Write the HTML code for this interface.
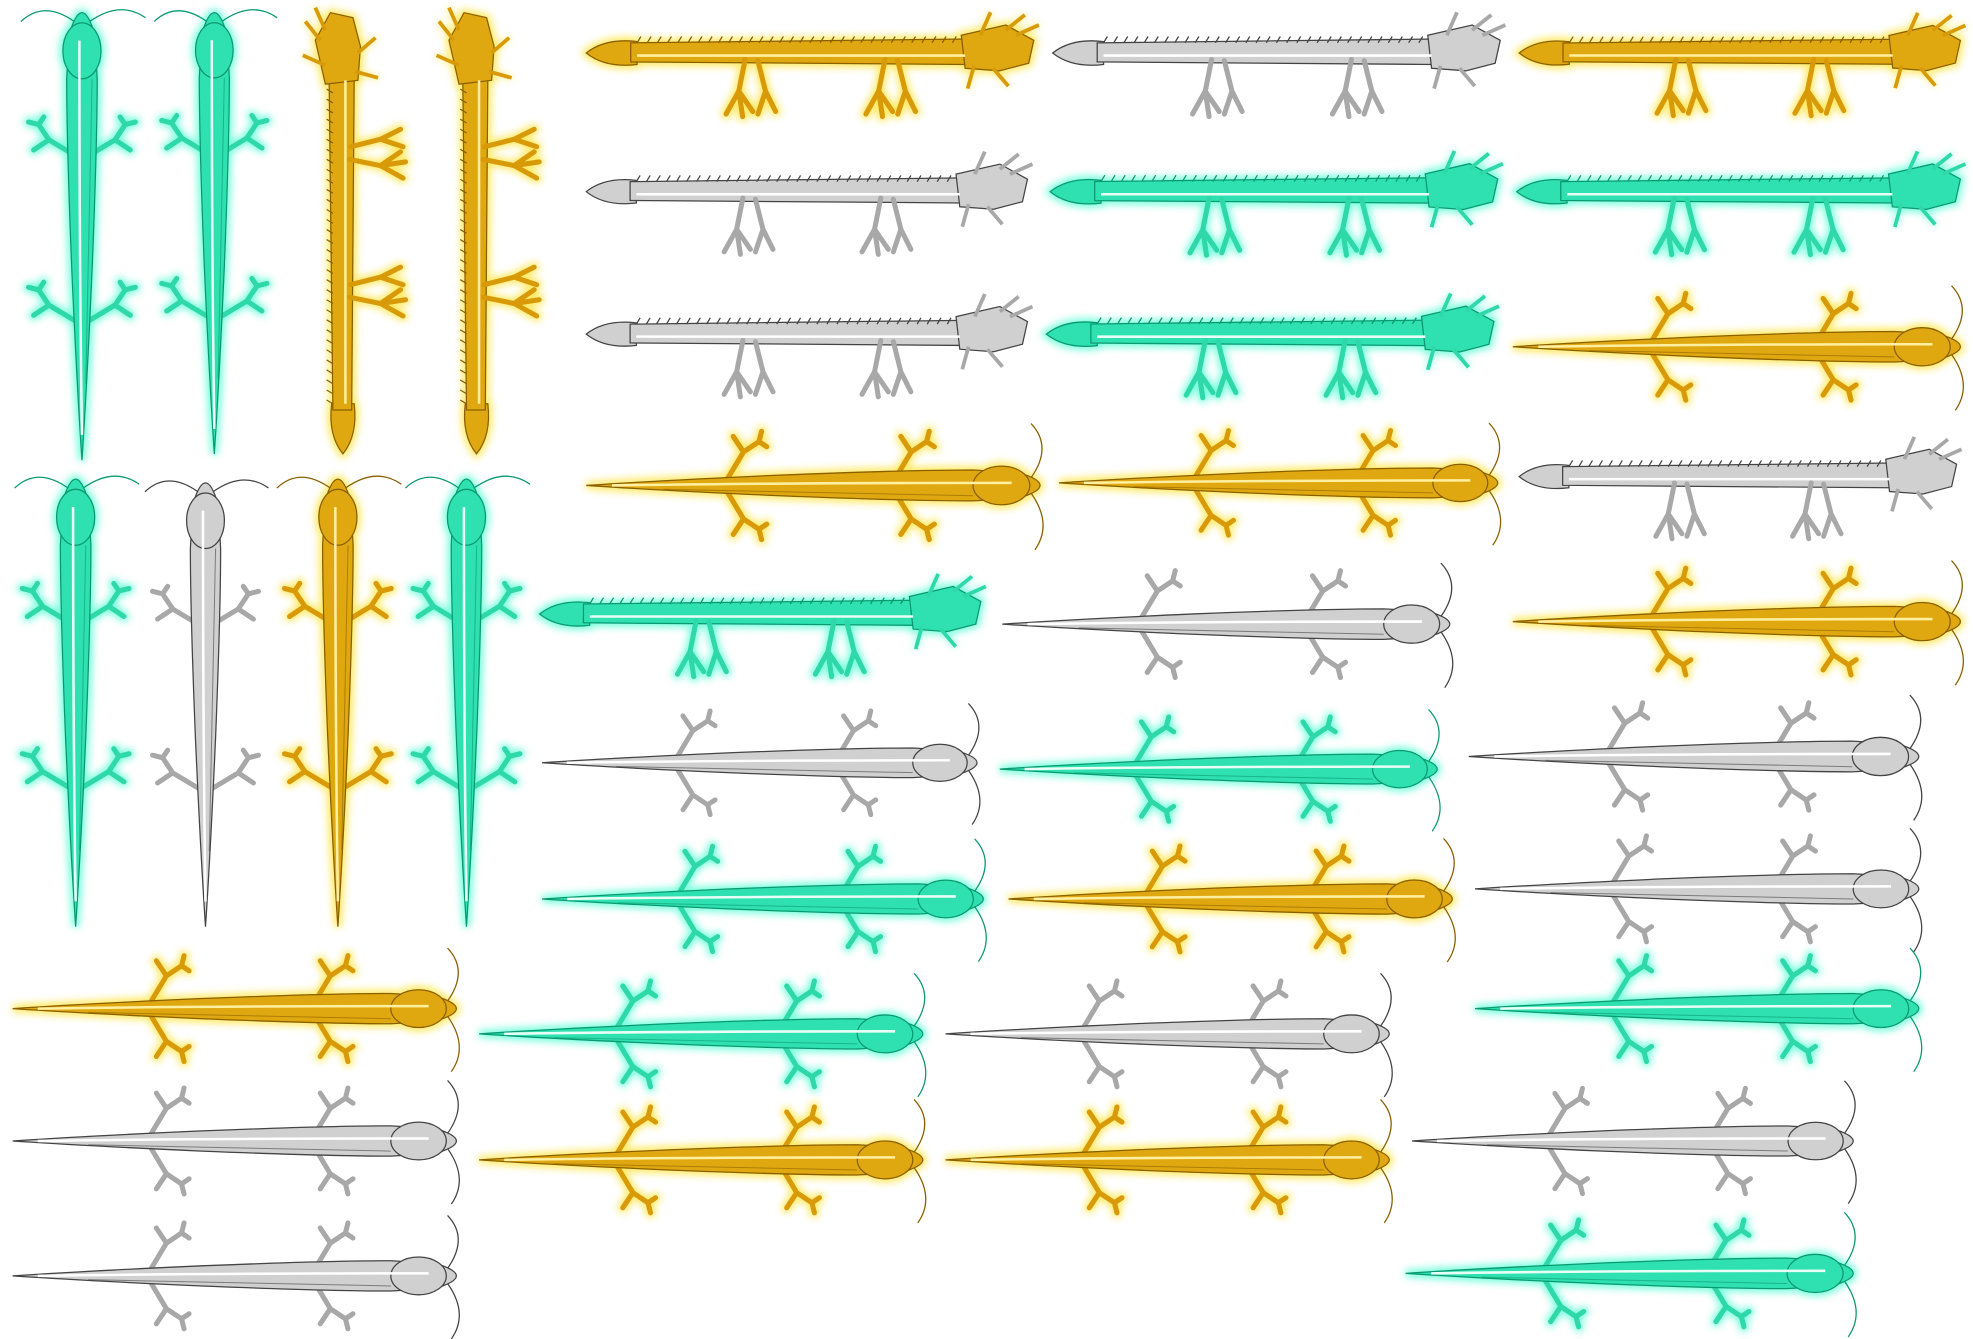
<!DOCTYPE html>
<html><head><meta charset="utf-8">
<style>html,body{margin:0;padding:0;background:#fff;overflow:hidden}svg{display:block}</style></head>
<body>
<svg id="sheet" width="1973" height="1339" viewBox="0 0 1565 1062" xmlns="http://www.w3.org/2000/svg">
<defs>
<filter id="glow" x="-20%" y="-50%" width="140%" height="200%"><feGaussianBlur stdDeviation="3"/></filter>
</defs>
</svg>
<script>
const NS='http://www.w3.org/2000/svg';
const svg=document.getElementById('sheet');
const pal={
 green:{fill:'#2fe0b0',stroke:'#0a9a70',glow:'#3fffd0',hi:'#e8fff8',leg:'#2fd8a8'},
 gold:{fill:'#e0a810',stroke:'#8a6000',glow:'#ffe020',hi:'#fff0a0',leg:'#d89a08'},
 silver:{fill:'#d0d0d0',stroke:'#444',glow:null,hi:'#ffffff',leg:'#a8a8a8'}
};
// sprites: [type, color, x0, x1, yc, orientation]
const sprites=[
 ['top','green',10,365,65,'v'],['top','green',10,360,170,'v'],['side','gold',10,360,272,'v'],['side','gold',10,360,378,'v'],
 ['top','green',380,735,60,'v'],['top','silver',383,735,163,'v'],['top','gold',380,735,268,'v'],['top','green',380,735,370,'v'],
 ['side','gold',465,820,42,'h'],['side','silver',465,815,152,'h'],['side','silver',465,815,265,'h'],['top','gold',465,825,385,'h'],
 ['side','green',428,778,487,'h'],['top','silver',430,775,605,'h'],['top','green',430,780,713,'h'],
 ['side','silver',835,1190,42,'h'],['side','green',833,1188,152,'h'],['side','green',830,1185,265,'h'],['top','gold',840,1188,383,'h'],
 ['top','silver',795,1150,495,'h'],['top','green',793,1140,610,'h'],['top','gold',800,1152,713,'h'],
 ['side','gold',1205,1555,42,'h'],['side','green',1203,1555,152,'h'],['top','gold',1200,1555,275,'h'],['side','silver',1205,1552,378,'h'],
 ['top','gold',1200,1555,493,'h'],['top','silver',1165,1522,600,'h'],['top','silver',1170,1522,705,'h'],['top','green',1170,1522,800,'h'],
 ['top','silver',1120,1470,905,'h'],['top','green',1115,1470,1010,'h'],
 ['top','gold',10,362,800,'h'],['top','silver',10,362,905,'h'],['top','silver',10,362,1012,'h'],
 ['top','green',380,732,820,'h'],['top','gold',380,732,920,'h'],['top','silver',750,1102,820,'h'],['top','gold',750,1102,920,'h']
];
function el(tag,attrs,parent){const e=document.createElementNS(NS,tag);for(const k in attrs)e.setAttribute(k,attrs[k]);parent.appendChild(e);return e;}
function drawTop(g,c,glow){
 const s=glow?c.glow:c.stroke, f=glow?c.glow:c.fill, w=glow?6:1, lf=glow?c.glow:c.leg;
 [110,240].forEach(x=>{[-1,1].forEach(d=>{
  el('path',{d:`M${x},${d*6} L${x+12},${d*26} L${x+24},${d*34} M${x+12},${d*26} L${x+4},${d*38} M${x+24},${d*34} L${x+30},${d*30} M${x+24},${d*34} L${x+26},${d*42}`,fill:'none',stroke:lf,'stroke-width':glow?8:4,'stroke-linecap':'round'},g);
 });});
 el('path',{d:'M0,0 Q60,-4 150,-8 Q250,-12 300,-12 L335,-10 Q352,-5 352,0 Q352,5 335,10 L300,12 Q250,12 150,8 Q60,4 0,0Z',fill:f,stroke:s,'stroke-width':w},g);
 el('ellipse',{cx:322,cy:0,rx:22,ry:15,fill:f,stroke:s,'stroke-width':w},g);
 if(!glow){
  el('path',{d:'M20,0 Q150,-2 330,-2',fill:'none',stroke:c.hi,'stroke-width':2},g);
  el('path',{d:'M60,3 Q180,6 300,8',fill:'none',stroke:c.stroke,'stroke-width':0.8,opacity:0.6},g);
  el('path',{d:'M345,-6 Q362,-30 345,-48 M345,6 Q362,30 348,50',fill:'none',stroke:c.stroke,'stroke-width':1},g);
 }
}
function drawSide(g,c,glow){
 const s=glow?c.glow:c.stroke, f=glow?c.glow:c.fill, w=glow?6:1, lf=glow?c.glow:c.leg;
 el('path',{d:'M0,0 Q15,-12 40,-9 L40,9 Q15,12 0,0Z',fill:f,stroke:s,'stroke-width':w},g);
 el('path',{d:'M35,-8 L300,-11 L300,9 L35,7Z',fill:f,stroke:s,'stroke-width':w},g);
 [125,235].forEach(x=>{
  el('path',{d:`M${x},5 L${x-5},30 L${x-15},48 M${x-5},30 L${x+6},46 M${x-5},30 L${x-2},50 M${x+10},6 L${x+16},30 L${x+10},48 M${x+16},30 L${x+24},46`,fill:'none',stroke:lf,'stroke-width':glow?8:4,'stroke-linecap':'round'},g);
 });
 el('path',{d:'M295,-14 L330,-22 L352,-10 L348,8 L325,14 L298,12Z',fill:f,stroke:s,'stroke-width':w},g);
 el('path',{d:'M310,-14 L318,-32 M330,-18 L345,-30 M338,-14 L356,-22 M305,10 L300,28 M320,12 L332,26',fill:'none',stroke:lf,'stroke-width':3},g);
 if(!glow){
  let d='';for(let x=40;x<295;x+=8)d+=`M${x},-8 L${x+3},-13 `;
  el('path',{d:d,fill:'none',stroke:c.stroke,'stroke-width':1},g);
  el('path',{d:'M40,2 L298,2',fill:'none',stroke:c.hi,'stroke-width':2},g);
 }
}
sprites.forEach((sp,i)=>{
 const [type,col,a0,a1,cc,o]=sp;const c=pal[col];
 const len=a1-a0, sc=len/352;
 const g=el('g',{},svg);
 
 
 const tr=o==='h'?`translate(${a0},${cc}) scale(${sc})`:`translate(${cc},${a1}) rotate(-90) scale(${sc})`;
 g.setAttribute('transform',tr);
 const fn=type==='top'?drawTop:drawSide;
 if(c.glow){const gg=el('g',{filter:'url(#glow)',opacity:0.7},g);fn(gg,c,true);}
 fn(g,c,false);
});
</script>
</body></html>
